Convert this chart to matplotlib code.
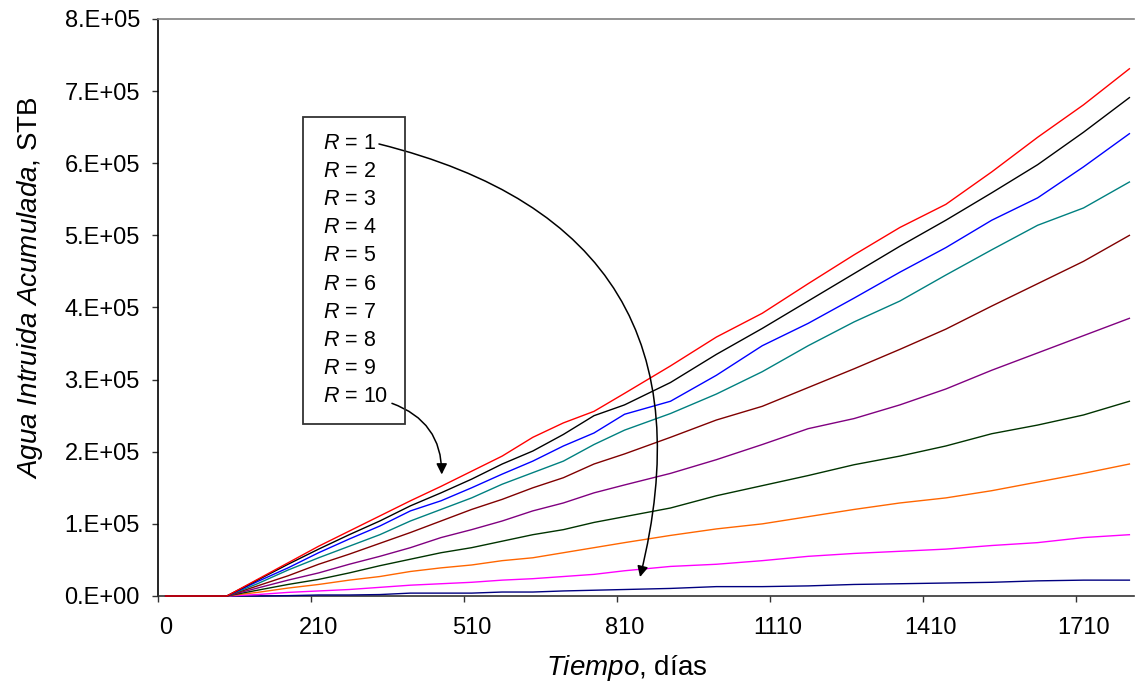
import matplotlib
matplotlib.use("Agg")
import matplotlib.pyplot as plt
from matplotlib.patches import Rectangle

plt.rcParams['font.family'] = ['Liberation Sans', 'DejaVu Sans']
plt.rcParams['mathtext.fontset'] = 'custom'
plt.rcParams['mathtext.rm'] = 'Liberation Sans'
plt.rcParams['mathtext.it'] = 'Liberation Sans:italic'

# category axis (days)
days = [0, 30, 60, 90, 120, 135, 150, 165, 180, 195] + list(range(210, 1801, 30))
label_every = 10

# sampled days where values were read
sample_days = [0, 120, 150, 180, 210, 270, 330, 390, 450, 510, 570, 630, 690, 750,
               810, 900, 990, 1080, 1170, 1260, 1350, 1440, 1530, 1620, 1710, 1800]

# cumulative water influx (x 1e5 STB), R = 10 ... R = 1
r10 = [0, 0, 0.23, 0.46, 0.69, 0.90, 1.11, 1.32, 1.52, 1.73, 1.94, 2.20, 2.40, 2.56,
       2.81, 3.19, 3.59, 3.92, 4.33, 4.73, 5.11, 5.43, 5.88, 6.36, 6.81, 7.31]
r9 = [0, 0, 0.22, 0.44, 0.65, 0.85, 1.04, 1.25, 1.43, 1.62, 1.83, 2.01, 2.24, 2.50,
      2.65, 2.96, 3.35, 3.71, 4.09, 4.47, 4.85, 5.21, 5.59, 5.98, 6.43, 6.91]
r8 = [0, 0, 0.20, 0.39, 0.60, 0.79, 0.97, 1.18, 1.32, 1.50, 1.69, 1.87, 2.08, 2.26,
      2.52, 2.70, 3.06, 3.47, 3.78, 4.13, 4.49, 4.83, 5.21, 5.52, 5.95, 6.41]
r7 = [0, 0, 0.17, 0.36, 0.53, 0.69, 0.85, 1.04, 1.20, 1.36, 1.55, 1.71, 1.87, 2.10,
      2.30, 2.53, 2.80, 3.11, 3.47, 3.80, 4.09, 4.45, 4.80, 5.14, 5.38, 5.74]
r6 = [0, 0, 0.14, 0.28, 0.44, 0.58, 0.73, 0.88, 1.04, 1.20, 1.34, 1.50, 1.64, 1.83,
      1.97, 2.20, 2.44, 2.63, 2.89, 3.15, 3.42, 3.70, 4.02, 4.33, 4.64, 5.00]
r5 = [0, 0, 0.11, 0.22, 0.32, 0.44, 0.55, 0.67, 0.81, 0.92, 1.04, 1.18, 1.29, 1.43,
      1.54, 1.70, 1.89, 2.10, 2.32, 2.46, 2.65, 2.87, 3.13, 3.37, 3.61, 3.85]
r4 = [0, 0, 0.08, 0.16, 0.23, 0.32, 0.42, 0.51, 0.60, 0.67, 0.76, 0.85, 0.92, 1.02,
      1.10, 1.22, 1.39, 1.53, 1.67, 1.82, 1.94, 2.08, 2.25, 2.37, 2.51, 2.70]
r3 = [0, 0, 0.05, 0.11, 0.16, 0.22, 0.27, 0.34, 0.39, 0.43, 0.49, 0.53, 0.60, 0.67,
      0.74, 0.84, 0.93, 1.00, 1.10, 1.20, 1.29, 1.36, 1.46, 1.58, 1.70, 1.83]
r2 = [0, 0, 0.02, 0.05, 0.07, 0.09, 0.12, 0.15, 0.17, 0.19, 0.22, 0.24, 0.27, 0.30,
      0.35, 0.41, 0.44, 0.49, 0.55, 0.59, 0.62, 0.65, 0.70, 0.74, 0.81, 0.85]
r1 = [0, 0, 0.0, 0.005, 0.014, 0.014, 0.02, 0.04, 0.04, 0.04, 0.055, 0.055, 0.07, 0.08,
      0.09, 0.105, 0.13, 0.13, 0.14, 0.16, 0.17, 0.18, 0.19, 0.21, 0.22, 0.22]

series = [r1, r2, r3, r4, r5, r6, r7, r8, r9, r10]
colors = ['#000080', '#FF00FF', '#FF6600', '#003300', '#800080',
          '#800000', '#008080', '#0000FF', '#000000', '#FF0000']
legend_labels = [f'$\\mathit{{R}}$ = {k}' for k in range(1, 11)]

y_ticks = [0, 1e5, 2e5, 3e5, 4e5, 5e5, 6e5, 7e5, 8e5]
y_ticklabels = ['0.E+00', '1.E+05', '2.E+05', '3.E+05', '4.E+05',
                '5.E+05', '6.E+05', '7.E+05', '8.E+05']

fig = plt.figure(figsize=(11.35, 6.9), dpi=100)
ax = fig.add_axes([158 / 1135, 94 / 690, 976 / 1135, 577 / 690])

pos = [days.index(d) for d in sample_days]
for vals, c in zip(series, colors):
    ax.plot(pos, [v * 1e5 for v in vals], color=c, lw=1.0, solid_joinstyle='round',
            zorder=3, clip_on=False)

ax.set_xlim(-0.5, 63.3)
ax.set_ylim(0, 8e5)

# category axis: ticks between categories, labels on categories
major = [i - 0.5 for i in range(0, len(days), label_every)]
ax.set_xticks(major)
ax.set_xticklabels([])
minor = list(range(0, len(days), label_every))
ax.set_xticks(minor, minor=True)
ax.set_xticklabels([str(days[i]) for i in minor], minor=True)
ax.tick_params(axis='x', which='major', direction='out', length=4.5, width=1, color='#333333')
ax.tick_params(axis='x', which='minor', length=0, pad=15, labelsize=17)

ax.set_yticks(y_ticks)
ax.set_yticklabels(y_ticklabels)
ax.tick_params(axis='y', direction='out', length=4, width=1, pad=9, labelsize=17, color='#333333')

ax.spines['right'].set_visible(False)
ax.spines['top'].set_color('#808080')
ax.spines['top'].set_linewidth(1.2)
ax.spines['left'].set_color('black')
ax.spines['bottom'].set_color('#333333')
ax.spines['left'].set_linewidth(1.2)
ax.spines['bottom'].set_linewidth(1.2)

fig.text(627 / 1135, 1 - 668 / 690, r'$\mathit{Tiempo}$, días', ha='center', va='center', fontsize=20)
fig.text(30 / 1135, 1 - 288 / 690, r'$\mathit{Agua\ Intruida\ Acumulada}$, STB', ha='center',
         va='center', rotation=90, fontsize=20)

# legend-like box
ax.add_patch(Rectangle((0.1486, 0.2981), 0.2531 - 0.1486, 0.8302 - 0.2981,
                       transform=ax.transAxes, fill=False, edgecolor='#333333', lw=1.3, zorder=5))
y0, y1 = 0.785, 0.345
for k, lab in enumerate(legend_labels):
    yy = y0 + (y1 - y0) * k / 9
    ax.text(0.169, yy, lab, transform=ax.transAxes, fontsize=15.5, va='center', ha='left')

arrow_kw = dict(arrowstyle='-|>', color='black', lw=1.1, mutation_scale=16, shrinkA=0, shrinkB=0)
ax.annotate('', xy=(0.4939, 0.0329), xytext=(0.2264, 0.7834), xycoords='axes fraction',
            arrowprops=dict(connectionstyle='arc3,rad=-0.5', **arrow_kw))
ax.annotate('', xy=(0.2907, 0.2106), xytext=(0.2397, 0.3339), xycoords='axes fraction',
            arrowprops=dict(connectionstyle='arc3,rad=-0.35', **arrow_kw))

fig.savefig('out.png', dpi=100)
